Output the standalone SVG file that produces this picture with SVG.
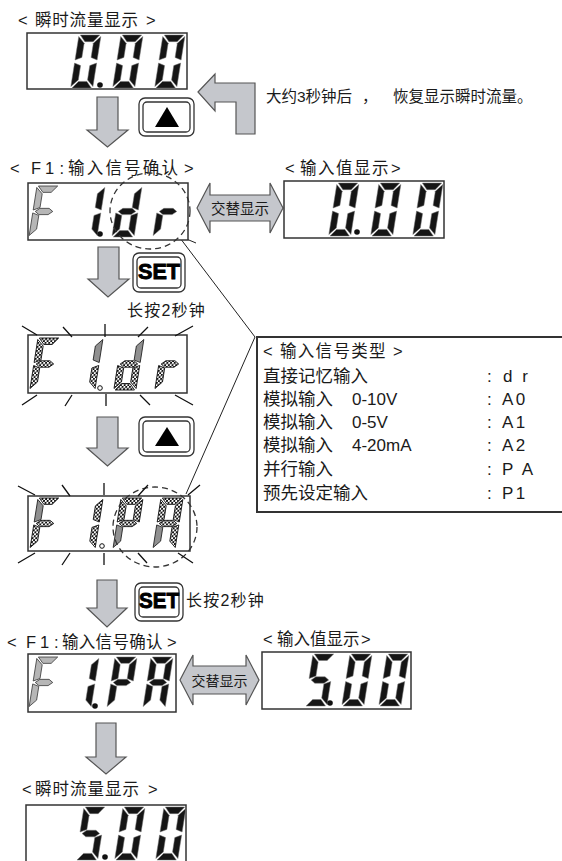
<svg xmlns="http://www.w3.org/2000/svg" xmlns:xlink="http://www.w3.org/1999/xlink" width="562" height="861" viewBox="0 0 562 861">
<style>
text{font-family:"Liberation Sans","Noto Sans CJK SC",sans-serif;fill:#1a1a1a}
.lbl{font-size:16.5px}
.box{fill:#fff;stroke:#333;stroke-width:1.5}
.k{fill:#151515;stroke:#777;stroke-width:.5}
.g{fill:#b6b6b6;stroke:#333;stroke-width:.8}
.c{fill:url(#chk);stroke:#111;stroke-width:.9}
.y{fill:#909090;stroke:#222;stroke-width:.9}
.arr{fill:#c5c7cc;stroke:#555;stroke-width:1.2}
.btn{fill:#fff;stroke:#333;stroke-width:1.3}
.ray{stroke:#111;stroke-width:1.3;fill:none}
.dash{fill:none;stroke:#333;stroke-width:1.3;stroke-dasharray:6 4}
.ln{stroke:#222;stroke-width:1;fill:none}
.set{font-family:"Liberation Sans",sans-serif;font-weight:bold;font-size:22px;fill:#000;stroke:#000;stroke-width:.9}
</style>
<defs>
<pattern id="chk" width="4" height="4" patternUnits="userSpaceOnUse"><rect width="4" height="4" fill="#fff"/><rect width="2" height="2" fill="#111"/><rect x="2" y="2" width="2" height="2" fill="#111"/></pattern>
<polygon id="sa" vector-effect="non-scaling-stroke" points="1.5,0 22.5,0 16.5,6.5 7.5,6.5"/>
<polygon id="sb" vector-effect="non-scaling-stroke" points="24,1.5 24,24.5 17,22 17,8"/>
<polygon id="sc" vector-effect="non-scaling-stroke" points="24,27.5 24,50.5 17,44 17,30"/>
<polygon id="sd" vector-effect="non-scaling-stroke" points="1.5,52 22.5,52 16.5,45.5 7.5,45.5"/>
<polygon id="se" vector-effect="non-scaling-stroke" points="0,27.5 0,50.5 7,44 7,30"/>
<polygon id="sf" vector-effect="non-scaling-stroke" points="0,1.5 0,24.5 7,22 7,8"/>
<polygon id="sg" vector-effect="non-scaling-stroke" points="2.5,26 7,22.8 17,22.8 21.5,26 17,29.2 7,29.2"/>
</defs>
<rect width="562" height="861" fill="#fff"/>

<g id="connectors">
<polygon class="arr" points="97,97 118,97 118,130 128,130 107.5,147 87,130 97,130"/>
<polygon class="arr" points="98,247 119,247 119,279 129,279 108,297 88,279 98,279"/>
<polygon class="arr" points="97,417 118,417 118,448 128,448 107.5,466 87,448 97,448"/>
<polygon class="arr" points="97,580 117,580 117,608 127,608 107,627 87,608 97,608"/>
<polygon class="arr" points="96,723 116,723 116,757 126,757 106,774 86,757 96,757"/>
<polygon class="arr" points="198,92 215,74 215,83 255,83 255,134 236,134 236,102 215,102 215,111"/>
<line class="ln" x1="177" y1="234" x2="255" y2="337"/>
<line class="ln" x1="177" y1="235" x2="196" y2="243"/>
<line class="ln" x1="255" y1="337" x2="186" y2="494"/>
</g>

<g id="label-top">
<text class="lbl" y="26"><tspan x="18">&lt;</tspan><tspan x="35" letter-spacing="0.8">瞬时流量显示</tspan><tspan x="146">&gt;</tspan></text>
</g>

<g id="display-flow-0">
<rect class="box" x="27" y="33" width="160" height="56"/>
<g class="k" transform="translate(79,35) skewX(-9) scale(.92,1.02)"><use href="#sa"/><use href="#sb"/><use href="#sc"/><use href="#sd"/><use href="#se"/><use href="#sf"/></g>
<g class="k" transform="translate(121,35) skewX(-9) scale(.92,1.02)"><use href="#sa"/><use href="#sb"/><use href="#sc"/><use href="#sd"/><use href="#se"/><use href="#sf"/></g>
<g class="k" transform="translate(163,35) skewX(-9) scale(.92,1.02)"><use href="#sa"/><use href="#sb"/><use href="#sc"/><use href="#sd"/><use href="#se"/><use href="#sf"/></g>
<circle cx="100" cy="85" r="2.8" fill="#111"/>
</g>

<g id="btn-up-1">
<rect class="btn" x="139" y="98" width="55" height="38" rx="6"/>
<rect class="btn" x="143" y="102" width="47" height="30" rx="4" stroke-width="1.6"/>
<polygon points="155,127 179,127 167,107" fill="#000"/>
</g>

<g id="note-3s">
<text font-size="15.5" y="102"><tspan x="266">大约3秒钟后</tspan><tspan x="362">，</tspan><tspan x="393">恢复显示瞬时流量。</tspan></text>
</g>

<g id="label-f1-top">
<text class="lbl" y="174"><tspan x="10">&lt;</tspan><tspan x="31">F</tspan><tspan x="45">1</tspan><tspan x="59.5">:</tspan><tspan x="68" letter-spacing="2.2">输入信号确认</tspan><tspan x="184">&gt;</tspan></text>
</g>

<g id="display-f1dr">
<rect class="box" x="28" y="183" width="160" height="57"/>
<g class="g" transform="translate(37,186) skewX(-9) scale(.92,.98)"><use href="#sa"/><use href="#sf"/><use href="#sg"/><use href="#se"/></g>
<g class="k" transform="translate(83,186) skewX(-9) scale(.92,.98)"><use href="#sb"/><use href="#sc"/></g>
<circle cx="100" cy="234" r="2.8" fill="#111"/>
<g class="k" transform="translate(120,186) skewX(-9) scale(.92,.98)"><use href="#sb"/><use href="#sc"/><use href="#sd"/><use href="#se"/><use href="#sg"/></g>
<g class="k" transform="translate(161,186) skewX(-9) scale(.92,.98)"><use href="#se"/><use href="#sg"/></g>
<ellipse class="dash" cx="150" cy="211" rx="40" ry="38"/>
</g>

<g id="alt-1">
<polygon class="arr" points="197,208 210,183 210,195 270,195 270,183 283,208 270,233 270,221 210,221 210,233"/>
<text font-size="14.5" x="240" y="214" text-anchor="middle">交替显示</text>
</g>

<g id="label-input-top">
<text class="lbl" y="174"><tspan x="285">&lt;</tspan><tspan x="300" letter-spacing="1.5">输入值显示</tspan><tspan x="391">&gt;</tspan></text>
</g>

<g id="display-input-0">
<rect class="box" x="284" y="181" width="160" height="57"/>
<g class="k" transform="translate(337,183) skewX(-9) scale(.92,1.02)"><use href="#sa"/><use href="#sb"/><use href="#sc"/><use href="#sd"/><use href="#se"/><use href="#sf"/></g>
<g class="k" transform="translate(379,183) skewX(-9) scale(.92,1.02)"><use href="#sa"/><use href="#sb"/><use href="#sc"/><use href="#sd"/><use href="#se"/><use href="#sf"/></g>
<g class="k" transform="translate(421,183) skewX(-9) scale(.92,1.02)"><use href="#sa"/><use href="#sb"/><use href="#sc"/><use href="#sd"/><use href="#se"/><use href="#sf"/></g>
<circle cx="357" cy="232" r="2.8" fill="#111"/>
</g>

<g id="btn-set-1">
<rect class="btn" x="133" y="253" width="52" height="39" rx="6"/>
<rect class="btn" x="137" y="257" width="44" height="31" rx="4" stroke-width="1.6"/>
<text class="set" x="159" y="279" text-anchor="middle" textLength="42" lengthAdjust="spacingAndGlyphs">SET</text>
</g>
<g id="note-hold-1">
<text font-size="16" x="127" y="316" letter-spacing="1.2">长按2秒钟</text>
</g>

<g id="display-blink-f1dr">
<rect class="box" x="28" y="335" width="159" height="58"/>
<g class="c" transform="translate(38,338) skewX(-9) scale(.92,1)"><use href="#sa"/><use href="#sf"/><use href="#sg"/><use href="#se"/></g>
<g transform="translate(81,338) skewX(-9) scale(.92,1)"><use class="y" href="#sb"/><use class="c" href="#sc"/></g>
<circle cx="100" cy="388" r="2.3" fill="#fff" stroke="#111" stroke-width="1"/>
<g transform="translate(122,338) skewX(-9) scale(.92,1)"><use class="y" href="#sb"/><use class="c" href="#sc"/><use class="c" href="#sd"/><use class="c" href="#se"/><use class="c" href="#sg"/></g>
<g class="c" transform="translate(163,338) skewX(-9) scale(.92,1)"><use href="#se"/><use href="#sg"/></g>
<path class="ray" d="M22,326 L37,335 M63,327 L72,337 M105,324 L105,337 M148,327 L138,337 M193,326 L175,336 M37,395 L22,405 M72,395 L65,406 M106,394 L106,406 M140,395 L150,405 M175,395 L193,405"/>
</g>

<g id="btn-up-2">
<rect class="btn" x="139" y="417" width="55" height="39" rx="6"/>
<rect class="btn" x="143" y="421" width="47" height="31" rx="4" stroke-width="1.6"/>
<polygon points="155,446 179,446 167,427" fill="#000"/>
</g>

<g id="table-signal-types">
<rect x="257" y="337" width="320" height="175" fill="#fff" stroke="#333" stroke-width="2"/>
<text font-size="16.5" y="357"><tspan x="263">&lt;</tspan><tspan x="280" letter-spacing="1.3">输入信号类型</tspan><tspan x="393">&gt;</tspan></text>
<text font-size="17.5" x="263" y="382">直接记忆输入</text>
<text font-size="17.5" y="405"><tspan x="263">模拟输入</tspan><tspan x="352" font-size="17">0-10V</tspan></text>
<text font-size="17.5" y="428"><tspan x="263">模拟输入</tspan><tspan x="352" font-size="17">0-5V</tspan></text>
<text font-size="17.5" y="451"><tspan x="263">模拟输入</tspan><tspan x="352" font-size="17">4-20mA</tspan></text>
<text font-size="17.5" x="263" y="475">并行输入</text>
<text font-size="17.5" x="263" y="499">预先设定输入</text>
<g font-size="17" letter-spacing="2.5">
<text y="382"><tspan x="487">:</tspan><tspan x="503">d r</tspan></text>
<text y="405"><tspan x="487">:</tspan><tspan x="502">A0</tspan></text>
<text y="428"><tspan x="487">:</tspan><tspan x="502">A1</tspan></text>
<text y="451"><tspan x="487">:</tspan><tspan x="502">A2</tspan></text>
<text y="475"><tspan x="487">:</tspan><tspan x="502">P A</tspan></text>
<text y="499"><tspan x="487">:</tspan><tspan x="502">P1</tspan></text>
</g>
</g>

<g id="display-blink-f1pa">
<rect class="box" x="28" y="496" width="162" height="55"/>
<g transform="translate(38,498) skewX(-9) scale(.92,.98)"><use class="c" href="#sa"/><use class="y" href="#sf"/><use class="c" href="#sg"/><use class="c" href="#se"/></g>
<g class="c" transform="translate(81,498) skewX(-9) scale(.92,.98)"><use href="#sb"/><use href="#sc"/></g>
<circle cx="102" cy="546" r="2.3" fill="#fff" stroke="#111" stroke-width="1"/>
<g transform="translate(121,498) skewX(-9) scale(.92,.98)"><use class="c" href="#sa"/><use class="c" href="#sb"/><use class="c" href="#sf"/><use class="c" href="#sg"/><use class="y" href="#se"/></g>
<g transform="translate(161,498) skewX(-9) scale(.92,.98)"><use class="c" href="#sa"/><use class="c" href="#sb"/><use class="c" href="#sc"/><use class="c" href="#sf"/><use class="c" href="#sg"/><use class="y" href="#se"/></g>
<ellipse class="dash" cx="155" cy="527" rx="42" ry="40"/>
<path class="ray" d="M18,486 L35,495 M62,485 L70,496 M104,483 L104,495 M148,485 L138,496 M200,485 L188,495 M35,553 L18,563 M70,553 L62,565 M104,553 L104,565 M138,553 L147,563 M178,553 L193,563"/>
</g>

<g id="btn-set-2">
<rect class="btn" x="135" y="583" width="48" height="38" rx="6"/>
<rect class="btn" x="139" y="587" width="40" height="30" rx="4" stroke-width="1.6"/>
<text class="set" x="159" y="608" text-anchor="middle" textLength="40" lengthAdjust="spacingAndGlyphs">SET</text>
</g>
<g id="note-hold-2">
<text font-size="16" x="186" y="606" letter-spacing="1.2">长按2秒钟</text>
</g>

<g id="label-f1-bottom">
<text class="lbl" y="648"><tspan x="7">&lt;</tspan><tspan x="26">F</tspan><tspan x="40">1</tspan><tspan x="54">:</tspan><tspan x="62" letter-spacing="0.3">输入信号确认</tspan><tspan x="167">&gt;</tspan></text>
</g>

<g id="display-f1pa">
<rect class="box" x="28" y="654" width="148" height="58"/>
<g class="g" transform="translate(37,657) skewX(-9) scale(.92,.98)"><use href="#sa"/><use href="#sf"/><use href="#sg"/><use href="#se"/></g>
<g class="k" transform="translate(77,657) skewX(-9) scale(.92,.98)"><use href="#sb"/><use href="#sc"/></g>
<circle cx="95" cy="706" r="2.8" fill="#111"/>
<g class="k" transform="translate(115,657) skewX(-9) scale(.92,.98)"><use href="#sa"/><use href="#sb"/><use href="#sf"/><use href="#sg"/><use href="#se"/></g>
<g class="k" transform="translate(151,657) skewX(-9) scale(.92,.98)"><use href="#sa"/><use href="#sb"/><use href="#sc"/><use href="#sf"/><use href="#sg"/><use href="#se"/></g>
</g>

<g id="alt-2">
<polygon class="arr" points="180,680 193,655 193,666 246,666 246,655 259,680 246,705 246,694 193,694 193,705"/>
<text font-size="14" x="219.5" y="686" text-anchor="middle">交替显示</text>
</g>

<g id="label-input-bottom">
<text class="lbl" y="645"><tspan x="263">&lt;</tspan><tspan x="277">输入值显示</tspan><tspan x="361">&gt;</tspan></text>
</g>

<g id="display-input-5">
<rect class="box" x="262" y="652" width="149" height="57"/>
<g class="k" transform="translate(313,654) skewX(-9) scale(.92,1)"><use href="#sa"/><use href="#sf"/><use href="#sg"/><use href="#sc"/><use href="#sd"/></g>
<circle cx="330" cy="703" r="2.8" fill="#111"/>
<g class="k" transform="translate(350,654) skewX(-9) scale(.92,1)"><use href="#sa"/><use href="#sb"/><use href="#sc"/><use href="#sd"/><use href="#se"/><use href="#sf"/></g>
<g class="k" transform="translate(387,654) skewX(-9) scale(.92,1)"><use href="#sa"/><use href="#sb"/><use href="#sc"/><use href="#sd"/><use href="#se"/><use href="#sf"/></g>
</g>

<g id="label-flow-bottom">
<text class="lbl" y="795"><tspan x="22">&lt;</tspan><tspan x="35" letter-spacing="1">瞬时流量显示</tspan><tspan x="148">&gt;</tspan></text>
</g>

<g id="display-flow-5">
<rect class="box" x="26" y="805" width="160" height="70"/>
<g class="k" transform="translate(84,807) skewX(-9) scale(.92,1.02)"><use href="#sa"/><use href="#sf"/><use href="#sg"/><use href="#sc"/><use href="#sd"/></g>
<circle cx="105" cy="857" r="2.8" fill="#111"/>
<g class="k" transform="translate(123,807) skewX(-9) scale(.92,1.02)"><use href="#sa"/><use href="#sb"/><use href="#sc"/><use href="#sd"/><use href="#se"/><use href="#sf"/></g>
<g class="k" transform="translate(164,807) skewX(-9) scale(.92,1.02)"><use href="#sa"/><use href="#sb"/><use href="#sc"/><use href="#sd"/><use href="#se"/><use href="#sf"/></g>
</g>
</svg>
